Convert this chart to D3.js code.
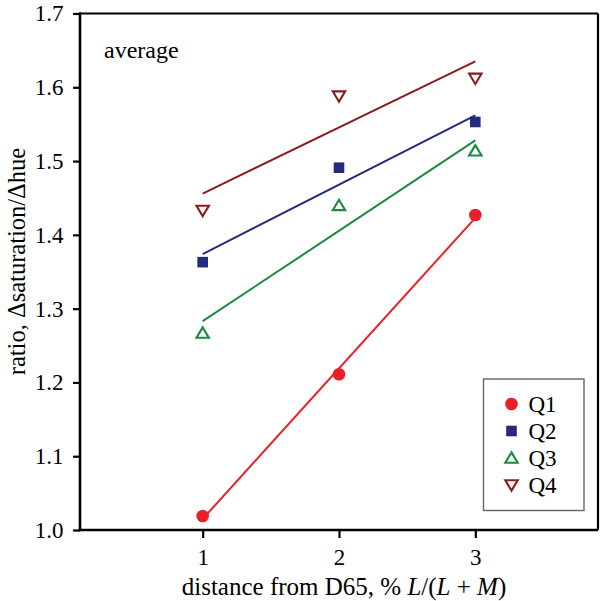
<!DOCTYPE html>
<html>
<head>
<meta charset="utf-8">
<script src="https://cdn.jsdelivr.net/npm/d3@7"></script>
<style>
  html, body { margin: 0; padding: 0; background: #fff; }
  svg { display: block; }
</style>
</head>
<body>
<svg id="chart" width="600" height="601"></svg>
<script>
// ---- data ----
const xValues = [1, 2, 3];
const seriesNames = ["Q1", "Q2", "Q3", "Q4"];
const q1 = [1.019, 1.211, 1.427];
const q2 = [1.363, 1.491, 1.553];
const q3 = [1.267, 1.440, 1.514];
const q4 = [1.433, 1.588, 1.612];
// fitted line end values at x = 1 and x = 3
const fitX = [1, 3];
const q1Fit = [1.015, 1.423];
const q2Fit = [1.374, 1.562];
const q3Fit = [1.283, 1.528];
const q4Fit = [1.456, 1.635];
const yTicks = [1.0, 1.1, 1.2, 1.3, 1.4, 1.5, 1.6, 1.7];
const xTicks = [1, 2, 3];

const FONT = "'Liberation Serif', 'Times New Roman', Times, serif";
const colors = { Q1: "#e8202a", Q2: "#262a7c", Q3: "#1a8a40", Q4: "#8a1c20" };
const shapes = { Q1: "circle", Q2: "square", Q3: "triangle", Q4: "triangleDown" };

const series = [
  { name: "Q1", values: q1, fit: q1Fit },
  { name: "Q2", values: q2, fit: q2Fit },
  { name: "Q3", values: q3, fit: q3Fit },
  { name: "Q4", values: q4, fit: q4Fit }
];

// ---- layout ----
const svg = d3.select("#chart");
const mLeft = 80, mRight = 598, mTop = 13.5, mBottom = 530;

const x = d3.scaleLinear().domain([0.1, 3.9]).range([mLeft, mRight]);
const y = d3.scaleLinear().domain([1.0, 1.7]).range([mBottom, mTop]);

// fit lines
const line = d3.line().x(d => x(d[0])).y(d => y(d[1]));
svg.append("g").selectAll("path").data(series).join("path")
  .attr("d", s => line(fitX.map((xx, i) => [xx, s.fit[i]])))
  .attr("fill", "none")
  .attr("stroke", s => colors[s.name])
  .attr("stroke-width", 2);

// marker drawing
function drawMarker(g, shape, color, cx, cy) {
  if (shape === "circle") {
    g.append("circle").attr("cx", cx).attr("cy", cy).attr("r", 6.3).attr("fill", color);
  } else if (shape === "square") {
    g.append("rect").attr("x", cx - 5.3).attr("y", cy - 5.3).attr("width", 10.6).attr("height", 10.6).attr("fill", color);
  } else if (shape === "triangle") {
    const w = 6.2, h = 5.6;
    g.append("path").attr("d", `M${cx},${cy - h}L${cx + w},${cy + h * 0.85}L${cx - w},${cy + h * 0.85}Z`)
      .attr("fill", "none").attr("stroke", color).attr("stroke-width", 2.1).attr("stroke-linejoin", "miter");
  } else {
    const w = 6.2, h = 5.6;
    g.append("path").attr("d", `M${cx},${cy + h}L${cx + w},${cy - h * 0.85}L${cx - w},${cy - h * 0.85}Z`)
      .attr("fill", "none").attr("stroke", color).attr("stroke-width", 2.1).attr("stroke-linejoin", "miter");
  }
}

const markers = svg.append("g");
series.forEach(s => {
  s.values.forEach((v, i) => drawMarker(markers, shapes[s.name], colors[s.name], x(xValues[i]), y(v)));
});

// frame
svg.append("line").attr("x1", mLeft).attr("x2", mRight).attr("y1", mTop).attr("y2", mTop)
  .attr("stroke", "#000").attr("stroke-width", 2.2);
svg.append("line").attr("x1", mRight).attr("x2", mRight).attr("y1", mTop).attr("y2", mBottom)
  .attr("stroke", "#000").attr("stroke-width", 2.2);

// axes
const yAxis = d3.axisLeft(y).tickValues(yTicks).tickFormat(d3.format(".1f")).tickSize(7).tickPadding(9.5);
const xAxis = d3.axisBottom(x).tickValues(xTicks).tickFormat(d3.format("d")).tickSize(8).tickPadding(11);

const gy = svg.append("g").attr("transform", `translate(${mLeft},0)`).call(yAxis);
const gx = svg.append("g").attr("transform", `translate(0,${mBottom})`).call(xAxis);
[gx, gy].forEach(g => {
  g.attr("font-family", null).attr("font-size", null);
  g.select(".domain").attr("stroke", "#000").attr("stroke-width", 2.6);
  g.selectAll(".tick line").attr("stroke", "#000").attr("stroke-width", 2.2);
  g.selectAll(".tick text").attr("fill", "#000")
    .style("font-family", FONT).style("font-size", "23px");
});
gy.select(".domain").attr("d", `M0,${mTop - 1.3}V${mBottom}`);
gx.select(".domain").attr("d", `M${mLeft - 1.3},0H${mRight}`);

// axis titles
svg.append("text")
  .attr("transform", `translate(25,261.5) rotate(-90)`)
  .attr("text-anchor", "middle")
  .style("font-family", FONT)
  .style("font-size", "24.5px")
  .text("ratio, \u0394saturation/\u0394hue");

const xt = svg.append("text")
  .attr("x", 344).attr("y", 595)
  .attr("text-anchor", "middle")
  .style("font-family", FONT)
  .style("font-size", "25px");
xt.append("tspan").text("distance from D65, % ");
xt.append("tspan").style("font-style", "italic").text("L");
xt.append("tspan").text("/(");
xt.append("tspan").style("font-style", "italic").text("L");
xt.append("tspan").text(" + ");
xt.append("tspan").style("font-style", "italic").text("M");
xt.append("tspan").text(")");

// annotation
svg.append("text").attr("x", 104).attr("y", 58)
  .style("font-family", FONT).style("font-size", "24px").text("average");

// legend
const lg = svg.append("g");
lg.append("rect").attr("x", 483.5).attr("y", 379).attr("width", 100.5).attr("height", 131.5)
  .attr("fill", "#fff").attr("stroke", "#666").attr("stroke-width", 1.4);
const rowY = d3.scalePoint().domain(seriesNames).range([404, 485]);
seriesNames.forEach(n => {
  drawMarker(lg, shapes[n], colors[n], 511.5, rowY(n));
  lg.append("text").attr("x", 528.5).attr("y", rowY(n)).attr("dy", "0.35em")
    .style("font-family", FONT).style("font-size", "23px").text(n);
});
</script>
</body>
</html>
